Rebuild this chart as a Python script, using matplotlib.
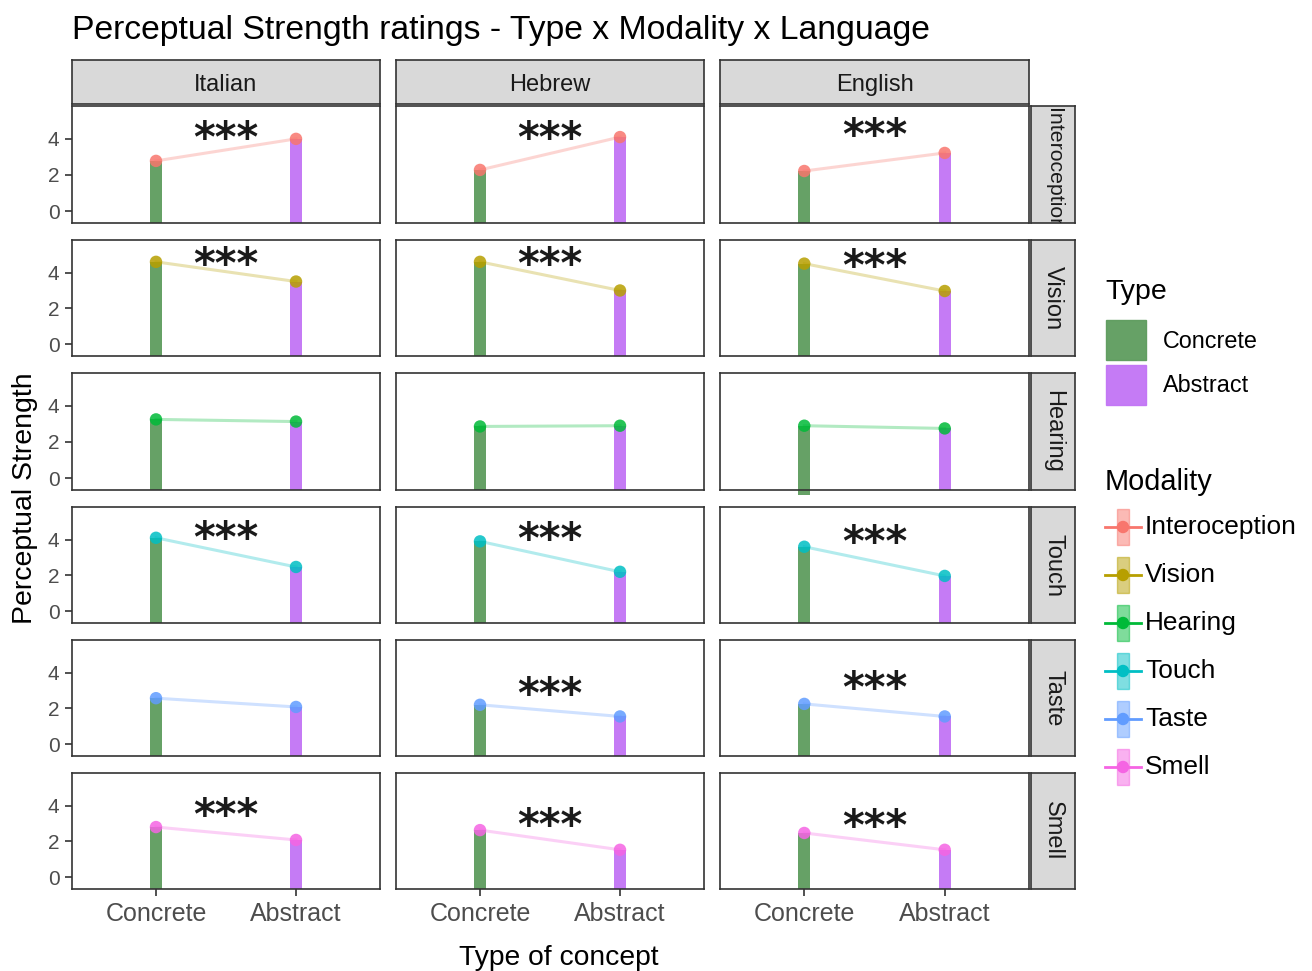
import matplotlib
matplotlib.use("Agg")
import matplotlib.pyplot as plt
from matplotlib.patches import Rectangle

plt.rcParams["font.family"] = ["Liberation Sans", "DejaVu Sans"]

languages = ["Italian", "Hebrew", "English"]
modalities = ["Interoception", "Vision", "Hearing", "Touch", "Taste", "Smell"]
types = ["Concrete", "Abstract"]

# mean ratings, rows = modality, cols = language (Italian, Hebrew, English)
concrete_means = [
    [2.78, 2.28, 2.22],
    [4.60, 4.60, 4.50],
    [3.25, 2.86, 2.90],
    [4.10, 3.90, 3.60],
    [2.57, 2.20, 2.25],
    [2.80, 2.63, 2.47],
]
abstract_means = [
    [4.00, 4.10, 3.22],
    [3.50, 3.00, 2.97],
    [3.13, 2.90, 2.75],
    [2.47, 2.20, 1.97],
    [2.08, 1.55, 1.55],
    [2.08, 1.53, 1.53],
]
# height of the "***" label, None = not significant
star_y = [
    [4.2, 4.2, 4.35],
    [4.6, 4.6, 4.5],
    [None, None, None],
    [4.25, 4.2, 4.0],
    [None, 2.95, 3.3],
    [3.6, 3.05, 3.0],
]

mod_colors = ["#F8766D", "#B79F00", "#00BA38", "#00BFC4", "#619CFF", "#F564E3"]
type_colors = ["#5E9C5E", "#C274F5"]
W, H = 1312, 971
YLIM = (-0.66, 5.82)
XLIM = (0.4, 2.6)
BORDER = "#333333"
STRIP = "#D9D9D9"


def rect(x0, y0, x1, y1):
    return [x0 / W, 1 - y1 / H, (x1 - x0) / W, (y1 - y0) / H]


def strip_axes(box):
    sa = fig.add_axes(rect(*box))
    sa.set_facecolor(STRIP)
    sa.set_xticks([])
    sa.set_yticks([])
    for s in sa.spines.values():
        s.set_color(BORDER)
        s.set_linewidth(1.2)
    return sa


fig = plt.figure(figsize=(W / 100, H / 100), dpi=100)

col_x = [(72, 380), (396, 704), (720, 1029)]
row_y = [(106, 223), (240, 356), (373, 490), (507, 623), (640, 756), (773, 889)]

for r, mod in enumerate(modalities):
    for c, lang in enumerate(languages):
        ax = fig.add_axes(rect(col_x[c][0], row_y[r][0], col_x[c][1], row_y[r][1]))
        vals = [concrete_means[r][c], abstract_means[r][c]]
        xs = [1, 2]
        for i in range(2):
            bottom = YLIM[0] - 0.5
            clip = True
            if lang == "English" and mod == "Hearing" and i == 0:
                bottom, clip = -0.93, False
            ax.bar(xs[i], vals[i] - bottom, bottom=bottom, width=0.085,
                   color=type_colors[i], alpha=0.95, clip_on=clip, zorder=2)
        ax.plot(xs, vals, color=mod_colors[r], lw=2.2, alpha=0.3, zorder=3)
        ax.scatter(xs, vals, s=80, color=mod_colors[r], alpha=0.85,
                   edgecolors="none", zorder=4)
        if star_y[r][c] is not None:
            ax.text(1.5, star_y[r][c], "***", ha="center", va="center_baseline",
                    fontsize=30, color="#1a1a1a", fontweight="bold",
                    family="DejaVu Sans")
        ax.set_xlim(*XLIM)
        ax.set_ylim(*YLIM)
        ax.set_yticks([0, 2, 4])
        ax.set_xticks(xs)
        for s in ax.spines.values():
            s.set_color(BORDER)
            s.set_linewidth(1.2)
        ax.tick_params(length=5, width=1.2, color=BORDER, labelcolor="#4D4D4D",
                       labelsize=15, pad=4)
        if c == 0:
            ax.set_yticklabels(["0", "2", "4"])
        else:
            ax.tick_params(axis="y", left=False, labelleft=False)
        if r == len(modalities) - 1:
            ax.set_xticklabels(types, fontsize=18)
        else:
            ax.tick_params(axis="x", bottom=False, labelbottom=False)

        if r == 0:
            sa = strip_axes((col_x[c][0], 60, col_x[c][1], 104))
            sa.text(0.5, 0.44, lang, ha="center", va="center", fontsize=17,
                    color="#1a1a1a", transform=sa.transAxes)
        if c == len(languages) - 1:
            sa = strip_axes((1031, row_y[r][0], 1075, row_y[r][1]))
            if len(mod) > 10:
                # long label runs to the strip's bottom edge
                sa.text(0.5, 0.985, mod, ha="center", va="top", fontsize=15.3,
                        rotation=-90, color="#1a1a1a", transform=sa.transAxes,
                        clip_on=True)
            else:
                sa.text(0.5, 0.5, mod, ha="center", va="center", fontsize=17,
                        rotation=-90, color="#1a1a1a", transform=sa.transAxes)

# titles
fig.text(72 / W, 1 - 30 / H, "Perceptual Strength ratings - Type x Modality x Language",
         ha="left", va="center", fontsize=24.3)
fig.text(25 / W, 1 - 498 / H, "Perceptual Strength", rotation=90,
         ha="center", va="center", fontsize=20.5)
fig.text(559 / W, 1 - 958 / H, "Type of concept", ha="center", va="center",
         fontsize=20.3)

# legends drawn in pixel space
lg = fig.add_axes([0, 0, 1, 1], facecolor="none")
lg.set_xlim(0, W)
lg.set_ylim(H, 0)
lg.axis("off")
lg.text(1105, 292, "Type", fontsize=20.5, va="center", ha="left")
for i, t in enumerate(types):
    y0 = 320 + i * 45
    lg.add_patch(Rectangle((1106, y0), 40, 40, color=type_colors[i], alpha=0.95))
    lg.text(1163, y0 + 21, t, fontsize=16.8, va="center", ha="left")
lg.text(1105, 482, "Modality", fontsize=20.8, va="center", ha="left")
for i, m in enumerate(modalities):
    yc = 527 + i * 48
    lg.add_patch(Rectangle((1117, yc - 18), 12, 36, color=mod_colors[i], alpha=0.5))
    lg.plot([1105, 1141], [yc, yc], color=mod_colors[i], lw=2)
    lg.scatter([1123], [yc], s=80, color=mod_colors[i], edgecolors="none")
    lg.text(1145, yc, m, fontsize=18.9, va="center", ha="left")

fig.savefig("out.png", dpi=100)
